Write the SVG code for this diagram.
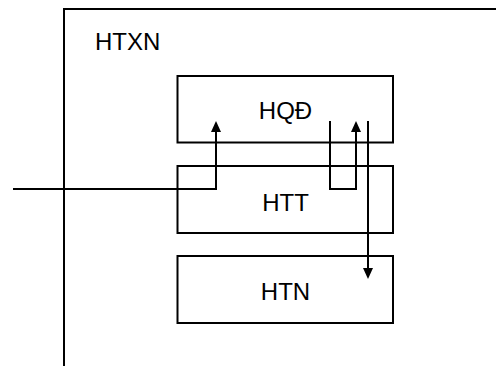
<svg xmlns="http://www.w3.org/2000/svg" width="496" height="366" viewBox="0 0 496 366">
<style>
.box{fill:none;stroke:#000;stroke-width:2}
.lbl{font-family:"Liberation Sans",Arial,sans-serif;font-size:24px;fill:#000}
.con{fill:none;stroke:#000;stroke-width:2}
</style>
<defs>
<marker id="arr" viewBox="0 0 11 10" refX="0" refY="5" markerWidth="11" markerHeight="10" markerUnits="userSpaceOnUse" orient="auto">
<path d="M0,0 L11,5 L0,10 Z" fill="#000"/>
</marker>
</defs>
<rect width="496" height="366" fill="#fff"/>
<g id="htxn">
<path class="box" d="M64,366 V9 H496"/>
<text class="lbl" x="95" y="49.5">HTXN</text>
</g>
<g id="hqd">
<rect class="box" x="177.5" y="76" width="215.5" height="66.5"/>
<text class="lbl" x="285.5" y="118.5" text-anchor="middle">HQĐ</text>
</g>
<g id="htt">
<rect class="box" x="177.5" y="166" width="215.5" height="67"/>
<text class="lbl" x="285.5" y="210.5" text-anchor="middle">HTT</text>
</g>
<g id="htn">
<rect class="box" x="177.5" y="256" width="215.5" height="67"/>
<text class="lbl" x="285.5" y="300" text-anchor="middle">HTN</text>
</g>
<g id="connectors">
<path class="con" d="M13,189 H216 V132" marker-end="url(#arr)"/>
<path class="con" d="M330,121 V189 H356 V132" marker-end="url(#arr)"/>
<path class="con" d="M368,121 V268" marker-end="url(#arr)"/>
</g>
</svg>
